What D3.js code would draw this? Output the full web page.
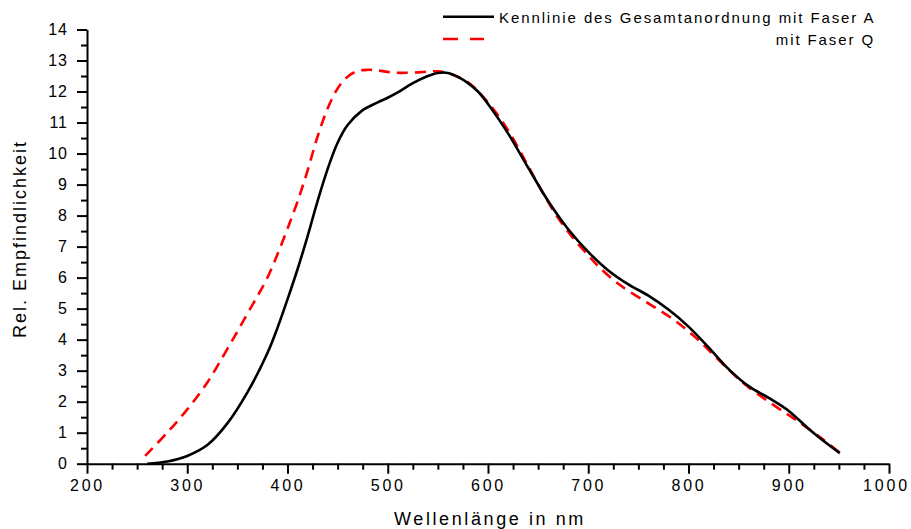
<!DOCTYPE html>
<html lang="de">
<head>
<meta charset="utf-8">
<script src="https://d3js.org/d3.v7.min.js"></script>
<style>
  body { margin: 0; background: #fff; }
  text { font-family: "Liberation Sans", Arial, sans-serif; fill: #000; }
</style>
</head>
<body>
<script>
// Faser A (solid black)
var wlA = [260, 280, 300, 320, 340, 360, 380, 390, 400, 410, 420, 430, 440, 450, 460, 475, 490, 500, 510, 525, 540, 550, 560, 570, 580, 590, 600, 620, 640, 660, 680, 700, 720, 740, 760, 780, 800, 820, 840, 860, 880, 900, 920, 940, 951];
var valA = [0, 0.07, 0.25, 0.6, 1.3, 2.3, 3.57, 4.38, 5.3, 6.27, 7.33, 8.47, 9.5, 10.35, 10.92, 11.4, 11.65, 11.8, 11.97, 12.27, 12.5, 12.6, 12.6, 12.47, 12.27, 12.0, 11.6, 10.65, 9.55, 8.47, 7.56, 6.83, 6.23, 5.78, 5.42, 4.97, 4.42, 3.75, 3.05, 2.5, 2.12, 1.7, 1.12, 0.6, 0.34];

// Faser Q (red dashed)
var wlQ = [258, 280, 300, 320, 340, 350, 360, 370, 380, 390, 400, 410, 420, 430, 440, 450, 460, 470, 480, 490, 505, 525, 550, 562, 580, 600, 620, 640, 655, 670, 685, 700, 710, 730, 758, 785, 808, 830, 855, 885, 910, 935, 951];
var valQ = [0.25, 1.0, 1.75, 2.62, 3.7, 4.26, 4.84, 5.4, 6.0, 6.75, 7.58, 8.45, 9.45, 10.55, 11.45, 12.1, 12.48, 12.66, 12.7, 12.68, 12.61, 12.61, 12.65, 12.57, 12.3, 11.65, 10.75, 9.6, 8.71, 7.92, 7.27, 6.72, 6.37, 5.8, 5.21, 4.65, 4.04, 3.35, 2.59, 1.89, 1.35, 0.76, 0.35];

var xTicks = [200, 300, 400, 500, 600, 700, 800, 900, 1000];
var yTicks = [0, 1, 2, 3, 4, 5, 6, 7, 8, 9, 10, 11, 12, 13, 14];
var legendLabels = ["Kennlinie des Gesamtanordnung mit Faser A", "mit Faser Q"];

var width = 911, height = 529;

var svg = d3.select("body").append("svg")
    .attr("width", width)
    .attr("height", height);

var x = d3.scaleLinear().domain([200, 1000]).range([87, 889]);
var y = d3.scaleLinear().domain([0, 14]).range([463.7, 29.5]);

// minor ticks
var xMinor = d3.range(200, 1001, 25).filter(function(d) { return d % 100 !== 0; });
var yMinor = d3.range(0.5, 14, 1);

svg.append("g")
   .attr("transform", "translate(0,463.7)")
   .call(d3.axisBottom(x).tickValues(xMinor).tickSize(6).tickFormat(""))
   .call(function(g) { g.select(".domain").remove(); });

svg.append("g")
   .attr("transform", "translate(87,0)")
   .call(d3.axisLeft(y).tickValues(yMinor).tickSize(6).tickFormat(""))
   .call(function(g) { g.select(".domain").remove(); });

var xAxis = svg.append("g")
   .attr("transform", "translate(0,463.7)")
   .call(d3.axisBottom(x).tickValues(xTicks).tickSize(10).tickSizeOuter(0).tickPadding(6).tickFormat(d3.format("d")));

var yAxis = svg.append("g")
   .attr("transform", "translate(87,0)")
   .call(d3.axisLeft(y).tickValues(yTicks).tickSize(10).tickSizeOuter(0).tickPadding(9).tickFormat(d3.format("d")));

svg.selectAll(".domain, .tick line")
   .attr("stroke", "#000")
   .attr("stroke-width", 2);

xAxis.selectAll("text")
   .style("font-size", "16px")
   .style("letter-spacing", "2.8px")
   .attr("fill", "#000")
   .attr("dx", function(d) { return d === 1000 ? -3 : 0; });

yAxis.selectAll("text")
   .style("font-size", "16px")
   .style("letter-spacing", "1px")
   .attr("fill", "#000");

// axis titles
svg.append("text")
   .attr("x", 490)
   .attr("y", 525)
   .attr("text-anchor", "middle")
   .style("font-size", "18px")
   .style("letter-spacing", "2.6px")
   .text("Wellenlänge in nm");

svg.append("text")
   .attr("transform", "translate(26,239) rotate(-90)")
   .attr("text-anchor", "middle")
   .style("font-size", "18px")
   .style("letter-spacing", "2px")
   .text("Rel. Empfindlichkeit");

// curves
var line = d3.line()
    .x(function(d) { return x(d[0]); })
    .y(function(d) { return y(d[1]); })
    .curve(d3.curveCatmullRom.alpha(0.5));

svg.append("path")
   .datum(d3.zip(wlQ, valQ))
   .attr("d", line)
   .attr("fill", "none")
   .attr("stroke", "#ff0000")
   .attr("stroke-width", 2.6)
   .attr("stroke-dasharray", "11,7");

svg.append("path")
   .datum(d3.zip(wlA, valA))
   .attr("d", line)
   .attr("fill", "none")
   .attr("stroke", "#000")
   .attr("stroke-width", 2.6);

// legend
svg.append("line")
   .attr("x1", 443).attr("x2", 494)
   .attr("y1", 16.7).attr("y2", 16.7)
   .attr("stroke", "#000").attr("stroke-width", 2.6);

svg.append("line")
   .attr("x1", 443).attr("x2", 484)
   .attr("y1", 39).attr("y2", 39)
   .attr("stroke", "#ff0000").attr("stroke-width", 2.6)
   .attr("stroke-dasharray", "15,12");

svg.append("text")
   .attr("x", 499)
   .attr("y", 23)
   .style("font-size", "15px")
   .style("letter-spacing", "1.9px")
   .text(legendLabels[0]);

svg.append("text")
   .attr("x", 875)
   .attr("y", 44.5)
   .attr("text-anchor", "end")
   .style("font-size", "15px")
   .style("letter-spacing", "1.9px")
   .text(legendLabels[1]);
</script>
</body>
</html>
